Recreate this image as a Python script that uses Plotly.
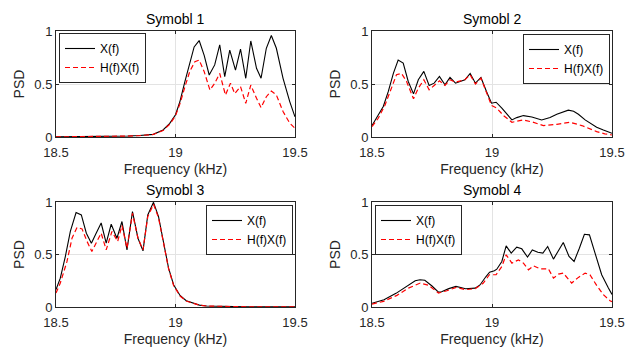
import plotly.graph_objects as go

# ---------------- data ----------------
f_x1 = [18.5, 18.6, 18.7, 18.75, 18.8, 18.85, 18.907, 18.948, 18.976, 19.0, 19.018, 19.039, 19.06, 19.078,
        19.099, 19.12, 19.141, 19.164, 19.185, 19.206, 19.227, 19.251, 19.272, 19.294, 19.315, 19.339,
        19.358, 19.38, 19.401, 19.422, 19.45, 19.478, 19.5]
x1 = [0.001, 0.002, 0.004, 0.006, 0.009, 0.014, 0.025, 0.066, 0.129, 0.21, 0.33, 0.52, 0.71, 0.85,
      0.91, 0.77, 0.585, 0.68, 0.87, 0.57, 0.82, 0.63, 0.83, 0.554, 0.906, 0.648,
      0.554, 0.837, 0.957, 0.837, 0.554, 0.334, 0.19]
f_h1 = [18.5, 18.6, 18.7, 18.75, 18.8, 18.85, 18.907, 18.948, 18.976, 19.0, 19.018, 19.039, 19.06, 19.081,
        19.099, 19.12, 19.144, 19.164, 19.185, 19.209, 19.23, 19.248, 19.272, 19.294, 19.315, 19.339,
        19.358, 19.38, 19.401, 19.422, 19.45, 19.478, 19.5]
h1 = [0.001, 0.002, 0.004, 0.006, 0.009, 0.013, 0.024, 0.062, 0.12, 0.2, 0.31, 0.47, 0.62, 0.71,
      0.726, 0.617, 0.443, 0.507, 0.60, 0.396, 0.507, 0.41, 0.475, 0.318, 0.49, 0.365,
      0.277, 0.38, 0.434, 0.396, 0.24, 0.13, 0.082]

f_x2 = [18.5, 18.519, 18.547, 18.568, 18.589, 18.609, 18.63, 18.651, 18.673, 18.693, 18.716, 18.738,
        18.759, 18.781, 18.804, 18.825, 18.848, 18.887, 18.909, 18.931, 18.954, 18.977, 18.998, 19.017,
        19.041, 19.083, 19.103, 19.131, 19.166, 19.207, 19.242, 19.27, 19.318, 19.34, 19.36, 19.388,
        19.408, 19.436, 19.464, 19.5]
x2 = [0.108, 0.177, 0.288, 0.43, 0.60, 0.726, 0.697, 0.524, 0.407, 0.54, 0.619, 0.486,
      0.508, 0.571, 0.492, 0.562, 0.508, 0.54, 0.60, 0.508, 0.562, 0.43, 0.319, 0.328,
      0.272, 0.161, 0.183, 0.202, 0.189, 0.161, 0.183, 0.215, 0.253, 0.243, 0.215, 0.161,
      0.13, 0.092, 0.066, 0.035]
f_h2 = [18.5, 18.526, 18.554, 18.582, 18.602, 18.623, 18.644, 18.673, 18.693, 18.716, 18.738, 18.759,
        18.781, 18.804, 18.825, 18.848, 18.887, 18.909, 18.931, 18.954, 18.977, 18.998, 19.02, 19.048,
        19.083, 19.131, 19.17, 19.214, 19.27, 19.325, 19.374, 19.405, 19.436, 19.47, 19.5]
h2 = [0.098, 0.177, 0.30, 0.46, 0.587, 0.60, 0.524, 0.36, 0.46, 0.54, 0.445, 0.486,
      0.53, 0.486, 0.54, 0.517, 0.54, 0.587, 0.499, 0.555, 0.413, 0.297, 0.272, 0.202,
      0.139, 0.161, 0.14, 0.108, 0.12, 0.139, 0.108, 0.08, 0.051, 0.03, 0.019]

f_x3 = [18.5, 18.518, 18.539, 18.56, 18.584, 18.606, 18.627, 18.648, 18.668, 18.689, 18.71, 18.731,
        18.755, 18.776, 18.797, 18.82, 18.843, 18.864, 18.884, 18.908, 18.929, 18.95, 18.971, 18.992,
        19.019, 19.045, 19.074, 19.1, 19.13, 19.2, 19.3, 19.4, 19.5]
x3 = [0.165, 0.275, 0.48, 0.72, 0.90, 0.877, 0.703, 0.608, 0.703, 0.80, 0.608, 0.788,
      0.655, 0.814, 0.544, 0.909, 0.655, 0.535, 0.877, 0.997, 0.861, 0.608, 0.37, 0.212,
      0.11, 0.06, 0.035, 0.018, 0.01, 0.004, 0.002, 0.001, 0.001]
f_h3 = [18.5, 18.518, 18.546, 18.567, 18.588, 18.609, 18.63, 18.65, 18.671, 18.689, 18.71, 18.734,
        18.758, 18.776, 18.797, 18.82, 18.843, 18.864, 18.884, 18.908, 18.929, 18.95, 18.971, 18.992,
        19.019, 19.045, 19.074, 19.1, 19.13, 19.2, 19.3, 19.4, 19.5]
h3 = [0.133, 0.228, 0.434, 0.655, 0.757, 0.744, 0.624, 0.529, 0.624, 0.703, 0.544, 0.719,
      0.624, 0.776, 0.56, 0.893, 0.655, 0.544, 0.861, 0.978, 0.85, 0.60, 0.365, 0.205,
      0.105, 0.057, 0.033, 0.017, 0.009, 0.004, 0.002, 0.001, 0.001]

f_x4 = [18.5, 18.55, 18.6, 18.65, 18.68, 18.7, 18.72, 18.75, 18.777, 18.79, 18.82, 18.85, 18.87,
        18.89, 18.93, 18.95, 18.975, 18.99, 19.01, 19.02, 19.041, 19.059, 19.08, 19.103, 19.124,
        19.148, 19.168, 19.191, 19.212, 19.232, 19.256, 19.277, 19.297, 19.321, 19.342, 19.364,
        19.385, 19.406, 19.429, 19.457, 19.485, 19.5]
x4 = [0.035, 0.069, 0.13, 0.21, 0.25, 0.26, 0.255, 0.2, 0.142, 0.145, 0.175, 0.196, 0.185,
      0.174, 0.18, 0.21, 0.29, 0.332, 0.345, 0.36, 0.434, 0.582, 0.513, 0.57, 0.554,
      0.475, 0.544, 0.522, 0.513, 0.576, 0.456, 0.544, 0.614, 0.481, 0.434, 0.56,
      0.693, 0.687, 0.513, 0.307, 0.18, 0.12]
f_h4 = [18.5, 18.548, 18.604, 18.652, 18.701, 18.736, 18.777, 18.812, 18.851, 18.888, 18.93, 18.964,
        18.989, 19.017, 19.041, 19.059, 19.083, 19.11, 19.131, 19.152, 19.173, 19.2, 19.235, 19.256,
        19.277, 19.297, 19.332, 19.36, 19.388, 19.408, 19.436, 19.464, 19.492, 19.5]
h4 = [0.028, 0.054, 0.111, 0.18, 0.228, 0.206, 0.133, 0.155, 0.187, 0.165, 0.174, 0.228,
      0.307, 0.307, 0.386, 0.497, 0.418, 0.449, 0.418, 0.354, 0.392, 0.364, 0.364, 0.275,
      0.313, 0.323, 0.228, 0.282, 0.323, 0.307, 0.206, 0.117, 0.06, 0.05]

titles = ["Symobl 1", "Symobl 2", "Symobl 3", "Symobl 4"]
names = ["X(f)", "H(f)X(f)"]
x_ticks = [18.5, 19, 19.5]
x_ticktext = ["18.5", "19", "19.5"]
y_ticks = [0, 0.5, 1]
y_ticktext = ["0", "0.5", "1"]

series = [(f_x1, x1, f_h1, h1), (f_x2, x2, f_h2, h2), (f_x3, x3, f_h3, h3), (f_x4, x4, f_h4, h4)]

# ---------------- layout geometry ----------------
# The page body has an 8px default margin, so the figure is sized to fill
# the remaining window area and positions are given in window pixels.
OFF = 8
W, H = 640 - OFF, 348 - OFF


def fx_(px):
    return (px - OFF) / W


def fy_(py):
    return 1 - (py - OFF) / H


xdoms = [[fx_(56), fx_(295)], [fx_(372), fx_(612)]]
ydoms = [[fy_(137), fy_(31)], [fy_(307), fy_(202)]]
FONT = "Liberation Sans, Arial, Helvetica, sans-serif"
AX = "#262626"

fig = go.Figure()
legend_names = ["legend", "legend2", "legend3", "legend4"]
for i, (fx, vx, fh, vh) in enumerate(series):
    sfx = "" if i == 0 else str(i + 1)
    fig.add_trace(go.Scatter(x=fx, y=vx, mode="lines", name=names[0],
                             line=dict(color="black", width=1.1),
                             xaxis="x" + sfx, yaxis="y" + sfx, legend=legend_names[i]))
    fig.add_trace(go.Scatter(x=fh, y=vh, mode="lines", name=names[1],
                             line=dict(color="#ff0000", width=1.2, dash="5px,3px"),
                             xaxis="x" + sfx, yaxis="y" + sfx, legend=legend_names[i]))

layout = dict(width=W, height=H, autosize=False,
              margin=dict(l=0, r=0, t=0, b=0),
              paper_bgcolor="white", plot_bgcolor="white",
              font=dict(family=FONT, size=13, color=AX),
              annotations=[])

legend_pos = [
    dict(x=fx_(59), y=fy_(33), xanchor="left", yanchor="top"),
    dict(x=fx_(610), y=fy_(34), xanchor="right", yanchor="top"),
    dict(x=fx_(293), y=fy_(205), xanchor="right", yanchor="top"),
    dict(x=fx_(375), y=fy_(205), xanchor="left", yanchor="top"),
]

for i in range(4):
    r, c = divmod(i, 2)
    sfx = "" if i == 0 else str(i + 1)
    layout["xaxis" + sfx] = dict(
        domain=xdoms[c], anchor="y" + sfx, range=[18.5, 19.5], automargin=False,
        tickvals=x_ticks, ticktext=x_ticktext, ticks="inside", ticklen=3,
        tickcolor=AX, showline=True, linecolor=AX, linewidth=1, mirror="ticks",
        showgrid=True, gridcolor="#e3e3e3", gridwidth=1, zeroline=False,
        tickfont=dict(size=13, color=AX), ticklabelstandoff=3,
        title=dict(text="Frequency (kHz)", font=dict(size=14, color=AX), standoff=5),
    )
    layout["yaxis" + sfx] = dict(
        domain=ydoms[r], anchor="x" + sfx, range=[0, 1], automargin=False,
        tickvals=y_ticks, ticktext=y_ticktext, ticks="inside", ticklen=3,
        tickcolor=AX, showline=True, linecolor=AX, linewidth=1, mirror="ticks",
        showgrid=True, gridcolor="#e3e3e3", gridwidth=1, zeroline=False,
        tickfont=dict(size=13, color=AX),
        title=dict(text="PSD", font=dict(size=14, color=AX), standoff=6),
    )
    layout[legend_names[i]] = dict(
        **legend_pos[i], bgcolor="white", bordercolor=AX, borderwidth=1,
        font=dict(size=12, color="black", family=FONT), tracegroupgap=0,
    )
    layout["annotations"].append(dict(
        text=titles[i], xref="x" + sfx + " domain", yref="y" + sfx + " domain",
        x=0.5, y=1, xanchor="center", yanchor="bottom", yshift=2, showarrow=False,
        font=dict(size=14, color="black", family=FONT)))

fig.update_layout(**layout)
fig.write_html("out.html")
